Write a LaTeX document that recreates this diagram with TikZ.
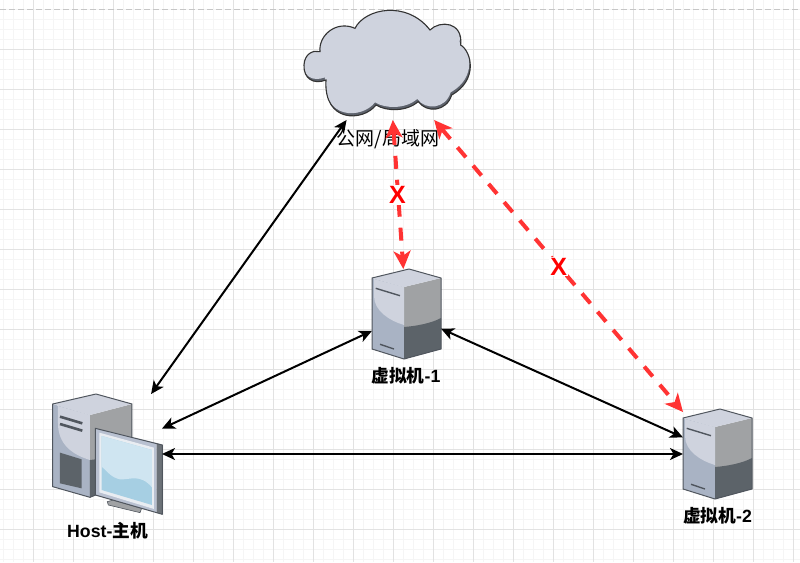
\documentclass[tikz,border=0pt]{standalone}
\usepackage{fontspec}
\setmainfont{Liberation Sans}
\newfontfamily\cjk{Noto Sans CJK SC}
\usetikzlibrary{arrows.meta}
\definecolor{minorg}{HTML}{F5F5F5}
\definecolor{majorg}{HTML}{E2E2E2}
\definecolor{faceL}{HTML}{A9B3C4}
\definecolor{hiL}{HTML}{CFD3DE}
\definecolor{faceR}{HTML}{A0A2A4}
\definecolor{darkR}{HTML}{5C6369}
\definecolor{edge}{HTML}{50565E}
\definecolor{redl}{HTML}{FF3333}
\definecolor{screenA}{HTML}{A6CFE3}
\definecolor{screenB}{HTML}{CFE5F1}
\definecolor{frameA}{HTML}{B9C1D1}
\definecolor{frameB}{HTML}{E9EDF2}
\newcommand{\cloudshape}{(90,155) .. controls (85,105) and (140,60) .. (195,85)
 .. controls (225,25) and (350,0) .. (420,90)
 .. controls (450,60) and (520,65) .. (512,135)
 .. controls (545,155) and (565,240) .. (485,285)
 .. controls (470,335) and (410,340) .. (385,305)
 .. controls (350,335) and (290,335) .. (258,315)
 .. controls (220,365) and (100,370) .. (108,240)
 .. controls (70,255) and (40,235) .. (42,195)
 .. controls (44,160) and (70,150) .. (90,155) -- cycle}
\tikzset{
  x=1pt,y=-1pt,
  anchorbox/.style={inner sep=0pt,outer sep=0pt,draw=none,fill=none},
  blackarrow/.style={draw=black,line width=2pt,{Stealth[length=13pt,width=12pt,inset=3.5pt]}-{Stealth[length=13pt,width=12pt,inset=3.5pt]}},
  redarrow/.style={draw=redl,line width=4pt,dash pattern=on 13pt off 11pt,{Stealth[length=18pt,width=17pt,inset=5pt]}-{Stealth[length=18pt,width=17pt,inset=5pt]}},
  iconlabel/.style={inner sep=0pt,font=\fontsize{17.7}{19}\selectfont\bfseries,text=black},
  crosslabel/.style={inner sep=1pt,fill=white,text=red,font=\fontsize{25}{26}\selectfont\bfseries},
  server/.pic={
    \fill[faceL] (0,9)--(32,18)--(32,90)--(0,80)--cycle;
    \fill[faceR] (32,18)--(69,9)--(69,80)--(32,90)--cycle;
    \fill[darkR] (32,58) .. controls (45,57) and (60,54) .. (69,49) -- (69,80)--(32,90)--cycle;
    \fill[hiL] (0,9)--(37,0)--(69,9)--(32,18)--cycle;
    \fill[hiL] (2,10)--(32,18)--(32,56) .. controls (18,52) and (2,42) .. (2,27)--cycle;
    \draw[edge,line width=1pt,line join=round] (0,9)--(37,0)--(69,9)--(69,80)--(32,90)--(0,80)--cycle;
    \draw[edge,line width=1.4pt] (3.7,19.3)--(28,26.7) (8,75.3)--(22,80);
  }
}
\begin{document}
\begin{tikzpicture}
\useasboundingbox (0,0) rectangle (800,562);
\fill[white] (0,0) rectangle (800,562);
% grid
\foreach \v in {3,13,...,793} \draw[minorg,line width=1pt] (\v,0)--(\v,562);
\foreach \v in {9,19,...,559} \draw[minorg,line width=1pt] (0,\v)--(800,\v);
\foreach \v in {33,73,...,793} \draw[majorg,line width=1pt] (\v,0)--(\v,562);
\foreach \v in {49,89,...,529} \draw[majorg,line width=1pt] (0,\v)--(800,\v);
\draw[gray!45,line width=1pt,dash pattern=on 6pt off 3pt] (0,9)--(800,9);
% cloud icon
\begin{scope}[shift={(290,0)},x=0.3333pt,y=-0.3333pt]
  \fill[black!45!faceL] \cloudshape;
  \begin{scope}
    \clip \cloudshape;
    \begin{scope}[shift={(-3,-8)}]
      \fill[hiL] \cloudshape;
    \end{scope}
  \end{scope}
  \draw[black!80,line width=1.1pt] \cloudshape;
\end{scope}
\node[anchorbox,minimum width=168pt,minimum height=110pt] (cloud) at (388,65) {};
\node[inner sep=0pt,font=\cjk\fontsize{19}{20}\selectfont,text=black] (cloudlabel) at (388,139) {公网/局域网};
% vm1, vm2
\pic at (372,269) {server};
\node[anchorbox,minimum width=69pt,minimum height=90pt] (vm1) at (406.5,314) {};
\node[iconlabel] (vm1label) at (406,376) {{\cjk 虚拟机}-1};
\pic at (683,409) {server};
\node[anchorbox,minimum width=68pt,minimum height=90pt] (vm2) at (717,454) {};
\node[iconlabel] (vm2label) at (717.5,516) {{\cjk 虚拟机}-2};
% host tower
\begin{scope}[shift={(30,380)},x=0.3333pt,y=-0.3333pt]
  \fill[faceL] (68,72)--(180,105)--(180,352)--(68,320)--cycle;
  \fill[faceR] (180,105)--(306,72)--(306,300)--(180,352)--cycle;
  \fill[darkR] (180,240) -- (306,225) -- (306,300)--(180,352)--cycle;
  \fill[hiL] (68,72)--(198,42)--(306,72)--(180,105)--cycle;
  \fill[hiL] (84,78)--(180,105)--(180,240) .. controls (130,225) and (84,195) .. (84,130)--cycle;
  \draw[edge,line width=1pt,line join=round] (68,72)--(198,42)--(306,72)--(306,300)--(180,352)--(68,320)--cycle;
  \draw[edge,line width=2.6pt] (90,110)--(157,130) (90,132)--(157,152);
  \fill[darkR] (90,218)--(155,238)--(155,325)--(90,310)--cycle;
  % monitor
  \fill[faceR,draw=edge,line width=0.6pt] (232,365)--(250,360)--(335,385)--(330,398)--(235,375)--cycle;
  \fill[frameA] (196,145)--(380,190)--(380,398)--(196,345)--cycle;
  \fill[frameB] (208,158)--(372,203)--(372,387)--(208,337)--cycle;
  \fill[screenA] (215,168)--(366,210)--(366,375)--(215,330)--cycle;
  \fill[screenB] (215,168)--(366,210)--(366,322) .. controls (330,280) and (300,300) .. (270,298) .. controls (240,292) and (230,270) .. (215,260)--cycle;
  \fill[darkR!90!white] (380,190)--(397,195)--(397,403)--(380,398)--cycle;
  \draw[edge,line width=1pt,line join=round] (196,145)--(397,195)--(397,403)--(380,398)--(196,345)--cycle;
\end{scope}
\node[anchorbox,minimum width=109pt,minimum height=120pt] (host) at (107.5,454) {};
\node[iconlabel] (hostlabel) at (107.5,531) {Host-{\cjk 主机}};
% connectors
\draw[blackarrow] (cloud.233) -- (host.54.5);
\draw[blackarrow] (host.25.3) -- (vm1.206);
\draw[blackarrow] (host.east) -- (vm2.west);
\draw[blackarrow] (vm1.-23) -- (vm2.154.8);
\draw[redarrow] (cloud.-85) -- (vm1.94.5);
\draw[redarrow] (cloud.-50) -- (vm2.129);
\node[crosslabel] (x1) at (397.5,195) {X};
\node[crosslabel] (x2) at (558.7,266.7) {X};
\end{tikzpicture}
\end{document}
